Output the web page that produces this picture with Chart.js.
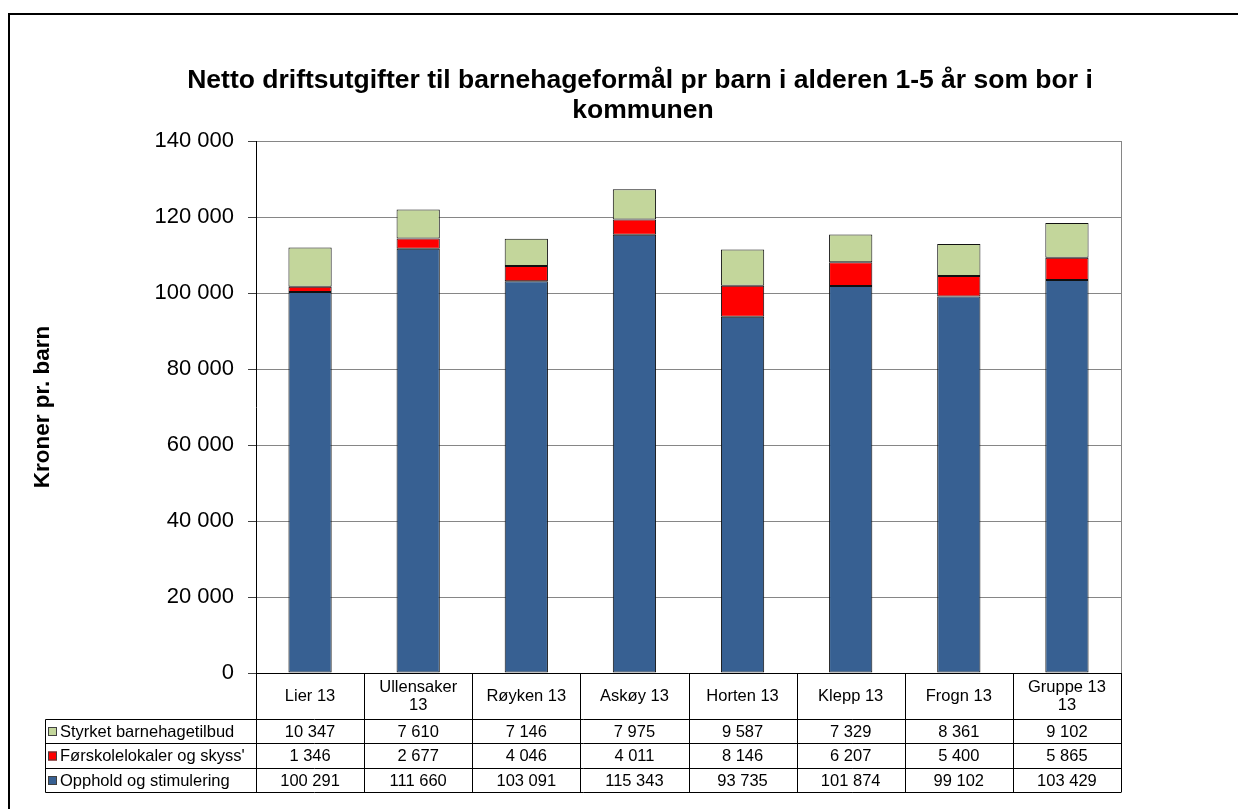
<!DOCTYPE html>
<html>
<head>
<meta charset="utf-8">
<script src="https://cdn.jsdelivr.net/npm/chart.js@4.4.1/dist/chart.umd.min.js"></script>
<style>
body { margin: 0; background: #fff; }
</style>
</head>
<body>
<canvas id="chart" width="1238" height="809"></canvas>
<script>
const categories = [['Lier 13'], ['Ullensaker', '13'], ['Røyken 13'], ['Askøy 13'], ['Horten 13'], ['Klepp 13'], ['Frogn 13'], ['Gruppe 13', '13']];
const opphold = [100291, 111660, 103091, 115343, 93735, 101874, 99102, 103429];
const forskole = [1346, 2677, 4046, 4011, 8146, 6207, 5400, 5865];
const styrket = [10347, 7610, 7146, 7975, 9587, 7329, 8361, 9102];
const seriesNames = ['Opphold og stimulering', "Førskolelokaler og skyss'", 'Styrket barnehagetilbud'];
const seriesColors = ['#376092', '#ff0000', '#c3d69b'];
const titleLines = ['Netto driftsutgifter til barnehageformål pr barn i alderen 1-5 år som bor i', 'kommunen'];

function fmt(n) {
    return String(n).replace(/\B(?=(\d{3})+(?!\d))/g, ' ');
}

// title, outer frame and the data table under the plot
const extras = {
    id: 'extras',
    afterDraw(chart) {
        const ctx = chart.ctx;
        const x = chart.scales.x;
        const area = chart.chartArea;
        ctx.save();
        ctx.strokeStyle = '#000';
        ctx.lineWidth = 2;
        ctx.strokeRect(9, 14, 1300, 900);

        ctx.fillStyle = '#000';
        ctx.font = 'bold 26.5px Arial, "Liberation Sans", sans-serif';
        ctx.textAlign = 'center';
        ctx.textBaseline = 'middle';
        ctx.fillText(titleLines[0], 640, 81);
        ctx.fillText(titleLines[1], 643, 111);

        // right edge of plot
        ctx.strokeStyle = '#868686';
        ctx.lineWidth = 1;
        ctx.beginPath();
        ctx.moveTo(area.right + 0.5, area.top);
        ctx.lineTo(area.right + 0.5, area.bottom);
        ctx.stroke();

        const n = categories.length;
        const colW = (x.right - x.left) / n;
        const rows = [719.5, 743.5, 768.5, 792.5];
        const legLeft = 45.5;
        ctx.strokeStyle = '#000';
        ctx.beginPath();
        ctx.moveTo(x.left, area.bottom + 0.5);
        ctx.lineTo(x.right, area.bottom + 0.5);
        rows.forEach(r => { ctx.moveTo(legLeft, r); ctx.lineTo(x.right, r); });
        ctx.moveTo(legLeft, rows[0]);
        ctx.lineTo(legLeft, rows[3]);
        for (let i = 0; i <= n; i++) {
            const bx = Math.round(x.left + i * colW) + 0.5;
            ctx.moveTo(bx, area.bottom);
            ctx.lineTo(bx, rows[3]);
        }
        ctx.stroke();

        ctx.font = '16.5px Arial, "Liberation Sans", sans-serif';
        ctx.textAlign = 'center';
        categories.forEach((lines, i) => {
            const cx = x.getPixelForValue(i);
            const mid = (area.bottom + rows[0]) / 2;
            lines.forEach((t, j) => {
                ctx.fillText(t, cx, mid + (j - (lines.length - 1) / 2) * 18);
            });
        });

        const tableSeries = [styrket, forskole, opphold];
        const tableNames = [seriesNames[2], seriesNames[1], seriesNames[0]];
        const tableColors = [seriesColors[2], seriesColors[1], seriesColors[0]];
        tableSeries.forEach((vals, r) => {
            const cy = (rows[r] + rows[r + 1]) / 2 + 0.5;
            ctx.textAlign = 'center';
            vals.forEach((v, i) => ctx.fillText(fmt(v), x.getPixelForValue(i), cy));
            ctx.fillStyle = tableColors[r];
            ctx.fillRect(48, cy - 5, 9, 9);
            ctx.strokeStyle = '#404040';
            ctx.strokeRect(48.5, cy - 4.5, 8, 8);
            ctx.fillStyle = '#000';
            ctx.textAlign = 'left';
            ctx.fillText(tableNames[r], 60, cy);
        });
        ctx.restore();
    }
};

const data = {
    labels: categories,
    datasets: [
        { label: seriesNames[0], data: opphold, backgroundColor: seriesColors[0] },
        { label: seriesNames[1], data: forskole, backgroundColor: seriesColors[1] },
        { label: seriesNames[2], data: styrket, backgroundColor: seriesColors[2] }
    ].map(d => Object.assign(d, {
        borderColor: '#111',
        borderWidth: 1,
        borderSkipped: false,
        barPercentage: 0.4,
        categoryPercentage: 1
    }))
};

const config = {
    type: 'bar',
    data: data,
    options: {
        responsive: false,
        animation: false,
        layout: { padding: { left: 0, top: 141, right: 117, bottom: 136 } },
        plugins: {
            legend: { display: false },
            tooltip: { enabled: false }
        },
        scales: {
            x: { stacked: true, display: false },
            y: {
                stacked: true,
                min: 0,
                max: 140000,
                afterFit(s) { s.width = 256; },
                ticks: {
                    stepSize: 20000,
                    padding: 14,
                    color: '#000',
                    font: { family: 'Arial, "Liberation Sans", sans-serif', size: 22 },
                    callback: v => fmt(v)
                },
                grid: { color: '#868686', tickLength: 8, tickColor: '#404040' },
                border: { display: true, color: '#000', width: 1 },
                title: {
                    display: true,
                    text: 'Kroner pr. barn',
                    color: '#000',
                    padding: { top: 29, bottom: 0 },
                    font: { family: 'Arial, "Liberation Sans", sans-serif', size: 22.5, weight: 'bold' }
                }
            }
        }
    },
    plugins: [extras]
};

new Chart(document.getElementById('chart').getContext('2d'), config);
</script>
</body>
</html>
